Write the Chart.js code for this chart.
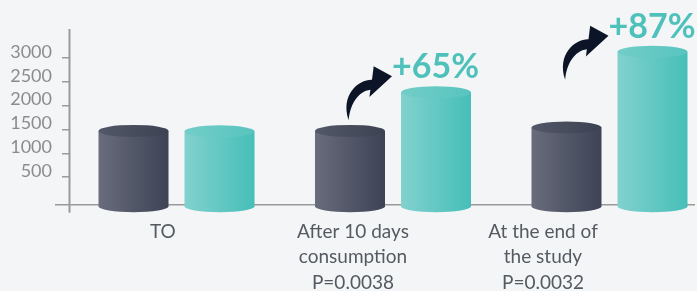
<!DOCTYPE html>
<html>
<head>
<meta charset="utf-8">
<script src="https://cdn.jsdelivr.net/npm/chart.js@4"></script>
<style>
html, body { margin: 0; padding: 0; background: #f4f5f7; }
#wrap { width: 697px; height: 291px; }
</style>
</head>
<body>
<div id="wrap"><canvas id="chart"></canvas></div>
<script>
const categories = [['TO'], ['After 10 days', 'consumption', 'P=0.0038'], ['At the end of', 'the study', 'P=0.0032']];
const beforeValues = [1470, 1470, 1540];
const afterValues = [1460, 2280, 3130];
const gainLabels = ['', '+65%', '+87%'];
const yTicks = [500, 1000, 1500, 2000, 2500, 3000];

const palette = [
    { body: ['#686c7c', '#3d4355'], top: ['#535869', '#3c4252'] },
    { body: ['#82d1ce', '#46bfb8'], top: ['#72cdc8', '#58c4be'] }
];

function drawArrow(ctx, tx, ty) {
    ctx.save();
    ctx.translate(tx, ty);
    ctx.fillStyle = '#0b1527';
    ctx.beginPath();
    ctx.moveTo(0, 0);
    ctx.lineTo(-22.6, 20.7);
    ctx.lineTo(-21.6, 13.4);
    ctx.bezierCurveTo(-34, 15, -42, 28, -43.3, 44);
    ctx.bezierCurveTo(-52, 18, -33, 3, -20, 3.4);
    ctx.lineTo(-18.3, -10);
    ctx.closePath();
    ctx.fill();
    ctx.restore();
}

const cylinders = {
    id: 'cylinders',
    beforeDatasetsDraw(chart) {
        const ctx = chart.ctx;
        const a = chart.chartArea;
        ctx.save();
        ctx.strokeStyle = '#9a9a9a';
        ctx.lineWidth = 1.5;
        ctx.beginPath();
        ctx.moveTo(a.left - 15, a.bottom);
        ctx.lineTo(a.right, a.bottom);
        ctx.stroke();
        ctx.lineWidth = 2;
        ctx.beginPath();
        ctx.moveTo(a.left - 0.5, a.top);
        ctx.lineTo(a.left - 0.5, a.bottom + 8);
        ctx.stroke();
        ctx.restore();
    },
    afterDatasetsDraw(chart) {
        const ctx = chart.ctx;
        ctx.save();
        chart.data.datasets.forEach((ds, di) => {
            const col = palette[di];
            chart.getDatasetMeta(di).data.forEach((bar, i) => {
                const left = bar.x - bar.width / 2;
                const right = bar.x + bar.width / 2;
                const top = bar.y;
                const base = bar.base + 1.5;
                const rx = bar.width / 2, ry = 6;

                let g = ctx.createLinearGradient(left, 0, right, 0);
                g.addColorStop(0, col.body[0]);
                g.addColorStop(1, col.body[1]);
                ctx.fillStyle = g;
                ctx.beginPath();
                ctx.moveTo(left, top);
                ctx.lineTo(left, base);
                ctx.ellipse(bar.x, base, rx, ry, 0, Math.PI, 0, true);
                ctx.lineTo(right, top);
                ctx.closePath();
                ctx.fill();

                g = ctx.createLinearGradient(left, 0, right, 0);
                g.addColorStop(0, col.top[0]);
                g.addColorStop(1, col.top[1]);
                ctx.fillStyle = g;
                ctx.beginPath();
                ctx.ellipse(bar.x, top, rx, ry, 0, 0, Math.PI * 2);
                ctx.fill();

                if (di === 1 && gainLabels[i]) {
                    drawArrow(ctx, left - 9, top - 16);
                    ctx.fillStyle = '#4fc1bb';
                    ctx.font = 'bold 34px Lato';
                    ctx.textAlign = 'left';
                    ctx.textBaseline = 'alphabetic';
                    ctx.fillText(gainLabels[i], left - 9, top - 14);
                }
            });
        });
        ctx.restore();
    }
};

const ctx = document.getElementById('chart').getContext('2d');

new Chart(ctx, {
    type: 'bar',
    data: {
        datasets: [{
            label: 'Before',
            data: beforeValues.map((v, i) => ({ x: i, y: v })),
            backgroundColor: 'rgba(0,0,0,0)',
            base: -80
        }, {
            label: 'After',
            data: afterValues.map((v, i) => ({ x: i, y: v })),
            backgroundColor: 'rgba(0,0,0,0)',
            base: -80
        }]
    },
    options: {
        responsive: true,
        maintainAspectRatio: false,
        animation: false,
        categoryPercentage: 0.7945,
        barPercentage: 0.814,
        layout: { padding: { left: 0, right: 2, top: 29, bottom: 0 } },
        plugins: {
            legend: { display: false },
            tooltip: { enabled: false }
        },
        scales: {
            x: {
                type: 'linear',
                display: false,
                offset: false,
                grid: { offset: false },
                min: -0.492,
                max: 2.395,
                afterBuildTicks: s => { s.ticks = categories.map((c, i) => ({ value: i })); }
            },
            xl: {
                type: 'linear',
                position: 'bottom',
                offset: false,
                min: -0.489,
                max: 2.8,
                afterBuildTicks: s => { s.ticks = categories.map((c, i) => ({ value: i })); },
                afterFit: s => {
                    s.height = 86.3;
                    s.paddingLeft = 0;
                    s.paddingRight = 0;
                },
                grid: { display: false, drawTicks: false, offset: false },
                border: { display: false },
                ticks: {
                    callback: (v, i) => categories[i],
                    color: '#555a60',
                    font: { family: 'Lato', size: 19, lineHeight: 1.32 },
                    padding: 15,
                    maxRotation: 0,
                    autoSkip: false
                }
            },
            y: {
                min: -80,
                max: 3610,
                afterBuildTicks: s => { s.ticks = yTicks.map(v => ({ value: v })); },
                afterFit: s => {
                    s.width = 70;
                    s.paddingTop = 0;
                    s.paddingBottom = 0;
                },
                grid: { drawOnChartArea: false, drawTicks: true, tickLength: 8, color: '#9a9a9a', lineWidth: 1.5 },
                border: { display: false },
                ticks: {
                    callback: v => String(v),
                    color: '#8c8c8c',
                    font: { family: 'Lato', size: 18 },
                    padding: 10,
                    labelOffset: -6
                }
            }
        }
    },
    plugins: [cylinders]
});
</script>
</body>
</html>
